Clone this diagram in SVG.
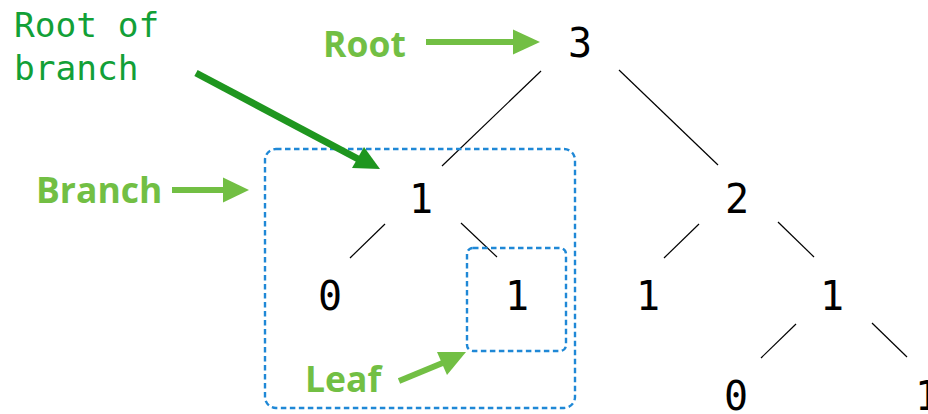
<svg xmlns="http://www.w3.org/2000/svg" width="928" height="414" viewBox="0 0 928 414">
<style>
.num{font-family:"DejaVu Sans Mono",monospace;font-size:40px;fill:#000;text-anchor:middle}
.edge{stroke:#000;stroke-width:1.2;fill:none}
.box{fill:none;stroke:#1f88d6;stroke-width:2.4;stroke-dasharray:5.5 3.5}
.lbl{font-family:"Open Sans",sans-serif;font-weight:700;font-size:35.5px;fill:#72bf44}
.lbl2{font-family:"DejaVu Sans Mono",monospace;font-size:34.5px;fill:#12a037}
.la{stroke:#72bf44;stroke-width:6;fill:none}
.lh{fill:#72bf44}
.da{stroke:#1f961f;stroke-width:7;fill:none}
.dh{fill:#1f961f}
</style>
<rect width="928" height="414" fill="#fff"/>
<g id="connectors">
<line class="edge" x1="541" y1="71" x2="442" y2="166"/>
<line class="edge" x1="619" y1="70" x2="718" y2="165"/>
<line class="edge" x1="385" y1="224" x2="350" y2="258"/>
<line class="edge" x1="461" y1="223" x2="497" y2="257"/>
<line class="edge" x1="699" y1="224" x2="664" y2="258"/>
<line class="edge" x1="778" y1="222" x2="814" y2="257"/>
<line class="edge" x1="796" y1="324" x2="761" y2="358"/>
<line class="edge" x1="872" y1="323" x2="907" y2="357"/>
</g>
<g id="branch-box"><rect class="box" x="265" y="149" width="310" height="259" rx="11"/></g>
<g id="leaf-box"><rect class="box" x="467" y="248" width="99" height="103" rx="6"/></g>
<g id="n3"><text class="num" x="580" y="57">3</text></g>
<g id="n1a"><text class="num" x="421" y="213">1</text></g>
<g id="n2"><text class="num" x="737" y="213">2</text></g>
<g id="n0a"><text class="num" x="330" y="310">0</text></g>
<g id="n1b"><text class="num" x="517" y="310">1</text></g>
<g id="n1c"><text class="num" x="648" y="310">1</text></g>
<g id="n1d"><text class="num" x="832" y="310">1</text></g>
<g id="n0b"><text class="num" x="736" y="410">0</text></g>
<g id="n1e"><text class="num" x="927" y="410">1</text></g>
<g id="label-root">
<text class="lbl" x="323" y="57">Root</text>
<line class="la" x1="426" y1="42" x2="515" y2="42"/>
<polygon class="lh" points="540,42 513,29.5 513,54.5"/>
</g>
<g id="label-branch">
<text class="lbl" x="36" y="203">Branch</text>
<line class="la" x1="172" y1="190" x2="225" y2="190"/>
<polygon class="lh" points="249,190 223,177.5 223,202.5"/>
</g>
<g id="label-leaf">
<text class="lbl" x="305" y="392">Leaf</text>
<line class="la" x1="399" y1="381" x2="445" y2="362"/>
<polygon class="lh" points="466,352 437,352 447,375"/>
</g>
<g id="label-root-of-branch">
<text class="lbl2" x="14" y="37">Root of</text>
<text class="lbl2" x="14" y="80">branch</text>
<line class="da" x1="196" y1="73" x2="360" y2="160"/>
<polygon class="dh" points="380,169 352,168 364,147"/>
</g>
</svg>
